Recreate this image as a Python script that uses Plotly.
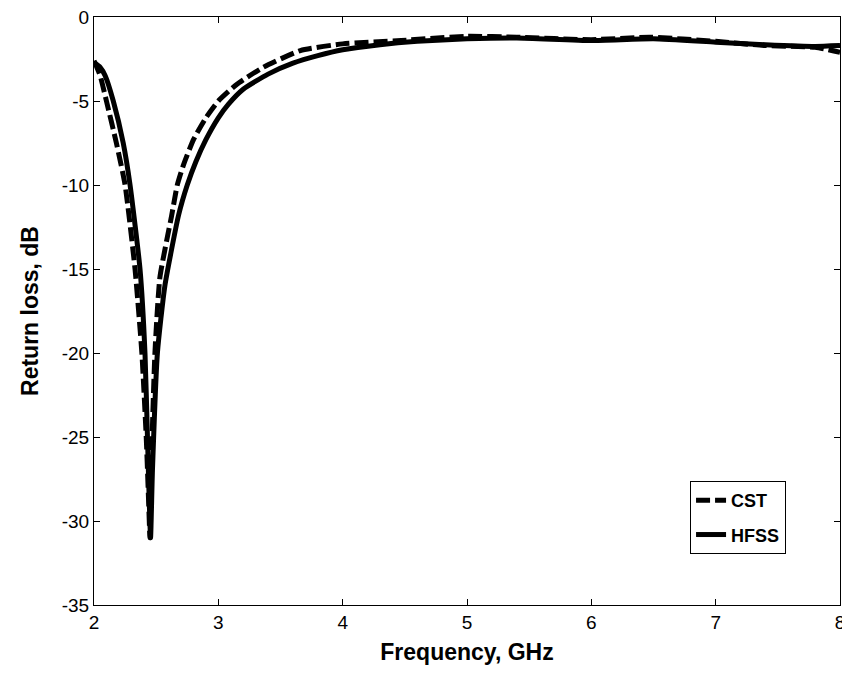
import plotly.graph_objects as go

# HFSS (solid)
f_hfss = [2.00, 2.05, 2.09, 2.155, 2.235, 2.29, 2.37, 2.41, 2.43, 2.445, 2.455,
          2.47, 2.51, 2.57, 2.68, 2.75, 2.82, 2.90, 3.00, 3.08, 3.20, 3.40, 3.60,
          3.80, 4.00, 4.30, 4.60, 5.00, 5.40, 6.00, 6.50, 7.00, 7.40, 7.80, 8.00]
rl_hfss = [-2.7, -3.0, -3.5, -5.0, -7.5, -10.0, -15.0, -20.0, -25.0, -29.0, -31.0,
           -27.0, -20.0, -16.0, -11.8, -10.0, -8.6, -7.3, -6.0, -5.2, -4.3, -3.4, -2.75,
           -2.3, -1.95, -1.65, -1.45, -1.3, -1.25, -1.4, -1.3, -1.5, -1.65, -1.75, -1.7]

# CST (dashed)
f_cst = [2.00, 2.05, 2.10, 2.18, 2.25, 2.33, 2.385, 2.42, 2.44, 2.45,
         2.46, 2.49, 2.53, 2.625, 2.67, 2.72, 2.80, 2.90, 3.00, 3.15, 3.36, 3.66, 4.00,
         4.47, 5.00, 5.40, 6.00, 6.47, 7.00, 7.40, 7.80, 8.00]
rl_cst = [-2.6, -3.5, -5.0, -7.5, -10.0, -15.0, -20.0, -25.0, -29.0, -31.0,
          -27.0, -20.0, -15.5, -11.8, -10.0, -8.8, -7.3, -6.0, -5.0, -4.0, -3.0, -2.0, -1.6,
          -1.4, -1.15, -1.2, -1.35, -1.2, -1.45, -1.7, -1.8, -2.1]

x_ticks = [2, 3, 4, 5, 6, 7, 8]
y_ticks = [-35, -30, -25, -20, -15, -10, -5, 0]
y_labels = [str(v) for v in y_ticks]  # plain hyphen like the original

fig = go.Figure()
fig.add_trace(go.Scatter(x=f_cst, y=rl_cst, mode='lines', name='CST', legendgroup='a',
                         line=dict(color='black', width=5, dash='14px,5px',
                                   shape='spline', smoothing=0.5)))
fig.add_trace(go.Scatter(x=f_hfss, y=rl_hfss, mode='lines', name='HFSS', legendgroup='b',
                         line=dict(color='black', width=5, shape='spline', smoothing=0.5)))

axis_common = dict(showline=True, linecolor='black', linewidth=1, mirror='ticks',
                   ticks='inside', ticklen=6, tickcolor='black', showgrid=False,
                   zeroline=False, automargin=False, ticklabeloverflow='allow',
                   tickfont=dict(family='Liberation Sans', size=19, color='black'))

# page body has an 8px margin, so the figure is 8px smaller and shifted
fig.update_layout(
    width=842, height=665,
    margin=dict(l=86, r=10, t=9, b=68),
    plot_bgcolor='white', paper_bgcolor='white',
    xaxis=dict(range=[2, 8], tickvals=x_ticks,
               title=dict(text='<b>Frequency, GHz</b>', standoff=12,
                          font=dict(family='Liberation Sans', size=23, color='black')),
               **axis_common),
    yaxis=dict(range=[-35, 0], tickvals=y_ticks, ticktext=y_labels,
               title=dict(text='<b>Return loss, dB</b>', standoff=16,
                          font=dict(family='Liberation Sans', size=23, color='black')),
               **axis_common),
    legend=dict(x=0.799, y=0.211, xanchor='left', yanchor='top',
                bordercolor='black', borderwidth=1, bgcolor='white',
                tracegroupgap=8,
                font=dict(family='Liberation Sans', size=18, color='black', weight='bold')),
    showlegend=True,
)

fig.write_html("out.html")
